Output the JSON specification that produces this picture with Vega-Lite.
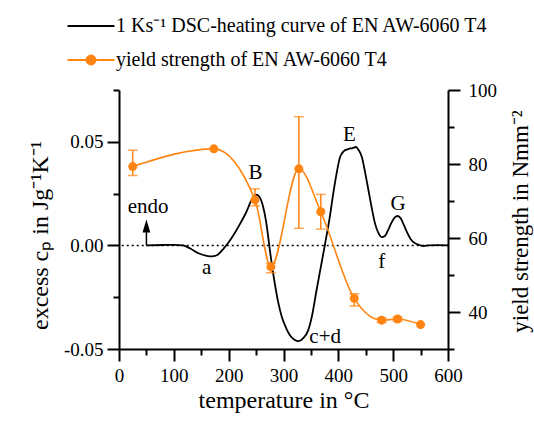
{
  "$schema": "https://vega.github.io/schema/vega-lite/v6.json",
  "width": 329,
  "height": 259,
  "autosize": {"type": "none"},
  "padding": {"left": 119, "top": 90, "right": 86, "bottom": 72},
  "background": "white",
  "config": {
    "view": {"stroke": null},
    "font": "Liberation Serif",
    "style": {
      "guide-label": {"font": "Liberation Serif", "fontSize": 19, "fill": "black"},
      "guide-title": {"font": "Liberation Serif", "fontSize": 24, "fill": "black", "fontWeight": "normal"}
    },
    "axis": {
      "domainColor": "black", "domainWidth": 2, "tickColor": "black", "tickWidth": 2,
      "labelColor": "black", "titleColor": "black", "labelFont": "Liberation Serif",
      "titleFont": "Liberation Serif", "titleFontWeight": "normal", "grid": false,
      "labelFontSize": 19, "titleFontSize": 24, "labelFlush": false, "labelOverlap": false
    }
  },
  "datasets": {
    "dsc": [
      {"T": 50, "cp": 0}, {"T": 80, "cp": 0.0002}, {"T": 100, "cp": 0.0003}, {"T": 117, "cp": 0},
      {"T": 130, "cp": -0.0015}, {"T": 145, "cp": -0.0038}, {"T": 160, "cp": -0.005}, {"T": 170, "cp": -0.0053},
      {"T": 180, "cp": -0.0045}, {"T": 190, "cp": -0.0018}, {"T": 200, "cp": 0.0015}, {"T": 210, "cp": 0.0055},
      {"T": 221, "cp": 0.0105}, {"T": 232, "cp": 0.016}, {"T": 242, "cp": 0.022}, {"T": 250, "cp": 0.0245},
      {"T": 256, "cp": 0.0235}, {"T": 262, "cp": 0.0195}, {"T": 268, "cp": 0.012}, {"T": 276, "cp": -0.004},
      {"T": 282, "cp": -0.015}, {"T": 290, "cp": -0.027}, {"T": 297, "cp": -0.0346}, {"T": 305, "cp": -0.04},
      {"T": 312, "cp": -0.0435}, {"T": 320, "cp": -0.0455}, {"T": 328, "cp": -0.0462}, {"T": 336, "cp": -0.0448},
      {"T": 345, "cp": -0.041}, {"T": 352, "cp": -0.034}, {"T": 360, "cp": -0.022}, {"T": 368, "cp": -0.0105},
      {"T": 376, "cp": 0.001}, {"T": 384, "cp": 0.013}, {"T": 391, "cp": 0.0255}, {"T": 397, "cp": 0.035},
      {"T": 403, "cp": 0.0425}, {"T": 410, "cp": 0.0455}, {"T": 418, "cp": 0.0465}, {"T": 426, "cp": 0.047},
      {"T": 432, "cp": 0.0475}, {"T": 437, "cp": 0.046}, {"T": 443, "cp": 0.0426}, {"T": 449, "cp": 0.035},
      {"T": 455, "cp": 0.0265}, {"T": 461, "cp": 0.018}, {"T": 467, "cp": 0.0105}, {"T": 473, "cp": 0.006},
      {"T": 479, "cp": 0.004}, {"T": 485, "cp": 0.0045}, {"T": 491, "cp": 0.0075}, {"T": 497, "cp": 0.011},
      {"T": 503, "cp": 0.0135}, {"T": 508, "cp": 0.0142}, {"T": 514, "cp": 0.013}, {"T": 520, "cp": 0.0095},
      {"T": 525, "cp": 0.0065}, {"T": 532, "cp": 0.003}, {"T": 540, "cp": 0.001}, {"T": 548, "cp": 0.0002},
      {"T": 555, "cp": -0.0003}, {"T": 565, "cp": 0}, {"T": 580, "cp": 0.0001}, {"T": 600, "cp": 0}
    ],
    "baseline": [{"T": 5, "T2": 600, "cp": 0}],
    "arrow": [{"T": 50, "cp": 0, "cp2": 0.007, "head": 0.0094}],
    "notes": [
      {"T": 53, "cp": 0.0183, "text": "endo"},
      {"T": 160, "cp": -0.011, "text": "a"},
      {"T": 249, "cp": 0.0348, "text": "B"},
      {"T": 376, "cp": -0.0444, "text": "c+d"},
      {"T": 420, "cp": 0.0531, "text": "E"},
      {"T": 479, "cp": -0.0081, "text": "f"},
      {"T": 509, "cp": 0.0201, "text": "G"}
    ],
    "ys": [
      {"T": 25, "ys": 79.3, "lo": 76.9, "hi": 83.7},
      {"T": 173, "ys": 84.1},
      {"T": 248, "ys": 70.3, "lo": 68.7, "hi": 73.3},
      {"T": 277, "ys": 52.2, "lo": 50.6, "hi": 53.2},
      {"T": 328, "ys": 78.7, "lo": 62.6, "hi": 92.8},
      {"T": 368, "ys": 67.1, "lo": 62.4, "hi": 71.8},
      {"T": 429, "ys": 43.7, "lo": 41.6, "hi": 44.9},
      {"T": 479, "ys": 37.8, "lo": 37.2, "hi": 38.4},
      {"T": 508, "ys": 38.1, "lo": 37.5, "hi": 38.7},
      {"T": 550, "ys": 36.6}
    ]
  },
  "layer": [
    {
      "encoding": {
        "x": {
          "field": "T", "type": "quantitative",
          "scale": {"domain": [0, 600], "nice": false, "zero": false},
          "axis": {
            "orient": "bottom",
            "title": "temperature in °C",
            "values": [0, 100, 200, 300, 400, 500, 600],
            "tickSize": 12, "labelPadding": 5, "titlePadding": 3,
            "labelFont": "Liberation Serif", "labelFontSize": 19
          }
        }
      },
      "layer": [
        {
          "data": {"name": "baseline"},
          "mark": {"type": "rule", "color": "black", "strokeWidth": 1.5, "strokeDash": [2, 3]},
          "encoding": {
            "x2": {"field": "T2"},
            "y": {
              "field": "cp", "type": "quantitative",
              "scale": {"domain": [-0.05, 0.075], "nice": false, "zero": false},
              "axis": {"orient": "left", "values": [-0.025, 0.025, 0.075], "tickSize": 6, "labels": false, "domain": false, "title": null}
            }
          }
        },
        {
          "data": {"name": "dsc"},
          "mark": {"type": "line", "strokeWidth": 1.8, "interpolate": "monotone"},
          "encoding": {
            "y": {
              "field": "cp", "type": "quantitative",
              "scale": {"domain": [-0.05, 0.075], "nice": false, "zero": false},
              "axis": {
                "orient": "left",
                "title": "excess cₚ in Jg⁻¹K⁻¹",
                "values": [-0.05, 0, 0.05],
                "labelExpr": "datum.value < -0.01 ? '-0.05' : (datum.value > 0.01 ? '0.05' : '0.00')",
                "tickSize": 12, "labelPadding": 4, "titlePadding": 11, "titleY": 145,
                "labelFont": "Liberation Serif", "labelFontSize": 19
              }
            },
            "color": {
              "datum": "1 Ks⁻¹ DSC-heating curve of EN AW-6060 T4",
              "type": "nominal",
              "scale": {
                "domain": ["1 Ks⁻¹ DSC-heating curve of EN AW-6060 T4", "yield strength of EN AW-6060 T4"],
                "range": ["black", "#FF8412"]
              },
              "legend": {
                "title": null, "orient": "none", "legendX": -38, "legendY": -74,
                "padding": 0, "rowPadding": 14, "labelFont": "Liberation Serif", "labelFontSize": 20,
                "labelColor": "black", "labelOffset": 15, "symbolSize": 245, "symbolStrokeWidth": 2,
                "labelLimit": 500,
                "encode": {
                  "symbols": {
                    "update": {
                      "shape": [
                        {"test": "datum.value === 'yield strength of EN AW-6060 T4'", "value": "M-3,0H3M-0.57,0A0.57,0.57 0 1,1 0.57,0A0.57,0.57 0 1,1 -0.57,0Z"},
                        {"value": "M-3,0H3"}
                      ],
                      "fill": [
                        {"test": "datum.value === 'yield strength of EN AW-6060 T4'", "value": "#FF8412"},
                        {"value": "transparent"}
                      ],
                      "stroke": [
                        {"test": "datum.value === 'yield strength of EN AW-6060 T4'", "value": "#FF8412"},
                        {"value": "black"}
                      ],
                      "strokeWidth": {"value": 2},
                      "opacity": {"value": 1}
                    }
                  }
                }
              }
            }
          }
        },
        {
          "data": {"name": "arrow"},
          "mark": {"type": "rule", "color": "black", "strokeWidth": 1.5},
          "encoding": {
            "y": {"field": "cp", "type": "quantitative", "scale": {"domain": [-0.05, 0.075], "nice": false, "zero": false}, "axis": null},
            "y2": {"field": "cp2"}
          }
        },
        {
          "data": {"name": "arrow"},
          "mark": {"type": "point", "shape": "M0,-1L0.6,1L-0.6,1Z", "filled": true, "color": "black", "size": 169, "opacity": 1},
          "encoding": {
            "y": {"field": "head", "type": "quantitative", "scale": {"domain": [-0.05, 0.075], "nice": false, "zero": false}, "axis": null}
          }
        },
        {
          "data": {"name": "notes"},
          "mark": {"type": "text", "font": "Liberation Serif", "fontSize": 21, "color": "black", "align": "center", "baseline": "middle"},
          "encoding": {
            "y": {"field": "cp", "type": "quantitative", "scale": {"domain": [-0.05, 0.075], "nice": false, "zero": false}, "axis": null},
            "text": {"field": "text"}
          }
        }
      ],
      "resolve": {"axis": {"y": "independent"}}
    },
    {
      "data": {"name": "ys"},
      "encoding": {
        "x": {
          "field": "T", "type": "quantitative",
          "scale": {"domain": [0, 600], "nice": false, "zero": false},
          "axis": {"orient": "bottom", "values": [50, 150, 250, 350, 450, 550], "tickSize": 6, "labels": false, "domain": false, "title": null}
        }
      },
      "layer": [
        {
          "mark": {"type": "line", "strokeWidth": 1.6, "interpolate": "monotone"},
          "encoding": {
            "y": {
              "field": "ys", "type": "quantitative",
              "scale": {"domain": [30, 100], "nice": false, "zero": false},
              "axis": {"orient": "right", "values": [30, 50, 70, 90], "tickSize": 6, "labels": false, "domain": false, "title": null}
            },
            "color": {"datum": "yield strength of EN AW-6060 T4", "type": "nominal"}
          }
        },
        {
          "transform": [{"filter": "isValid(datum.lo)"}],
          "mark": {"type": "rule", "color": "#FF8412", "strokeWidth": 1.5},
          "encoding": {
            "y": {"field": "lo", "type": "quantitative", "scale": {"domain": [30, 100], "nice": false, "zero": false}, "axis": null},
            "y2": {"field": "hi"}
          }
        },
        {
          "transform": [{"filter": "isValid(datum.lo)"}],
          "mark": {"type": "tick", "orient": "horizontal", "color": "#FF8412", "size": 10, "thickness": 1.5},
          "encoding": {
            "y": {"field": "lo", "type": "quantitative", "scale": {"domain": [30, 100], "nice": false, "zero": false}, "axis": null}
          }
        },
        {
          "transform": [{"filter": "isValid(datum.lo)"}],
          "mark": {"type": "tick", "orient": "horizontal", "color": "#FF8412", "size": 10, "thickness": 1.5},
          "encoding": {
            "y": {"field": "hi", "type": "quantitative", "scale": {"domain": [30, 100], "nice": false, "zero": false}, "axis": null}
          }
        },
        {
          "mark": {"type": "circle", "color": "#FF8412", "size": 81, "opacity": 1},
          "encoding": {
            "y": {
              "field": "ys", "type": "quantitative",
              "scale": {"domain": [30, 100], "nice": false, "zero": false},
              "axis": {
                "orient": "right",
                "title": "yield strength in Nmm⁻²",
                "values": [40, 60, 80, 100],
                "tickSize": 12, "labelPadding": 8, "titlePadding": 13, "titleAngle": 270, "titleBaseline": "top",
                "titleY": 131, "titleFontSize": 23,
                "labelFont": "Liberation Serif", "labelFontSize": 19
              }
            }
          }
        }
      ],
      "resolve": {"axis": {"y": "independent"}}
    }
  ],
  "resolve": {"scale": {"y": "independent"}, "axis": {"x": "independent"}}
}
